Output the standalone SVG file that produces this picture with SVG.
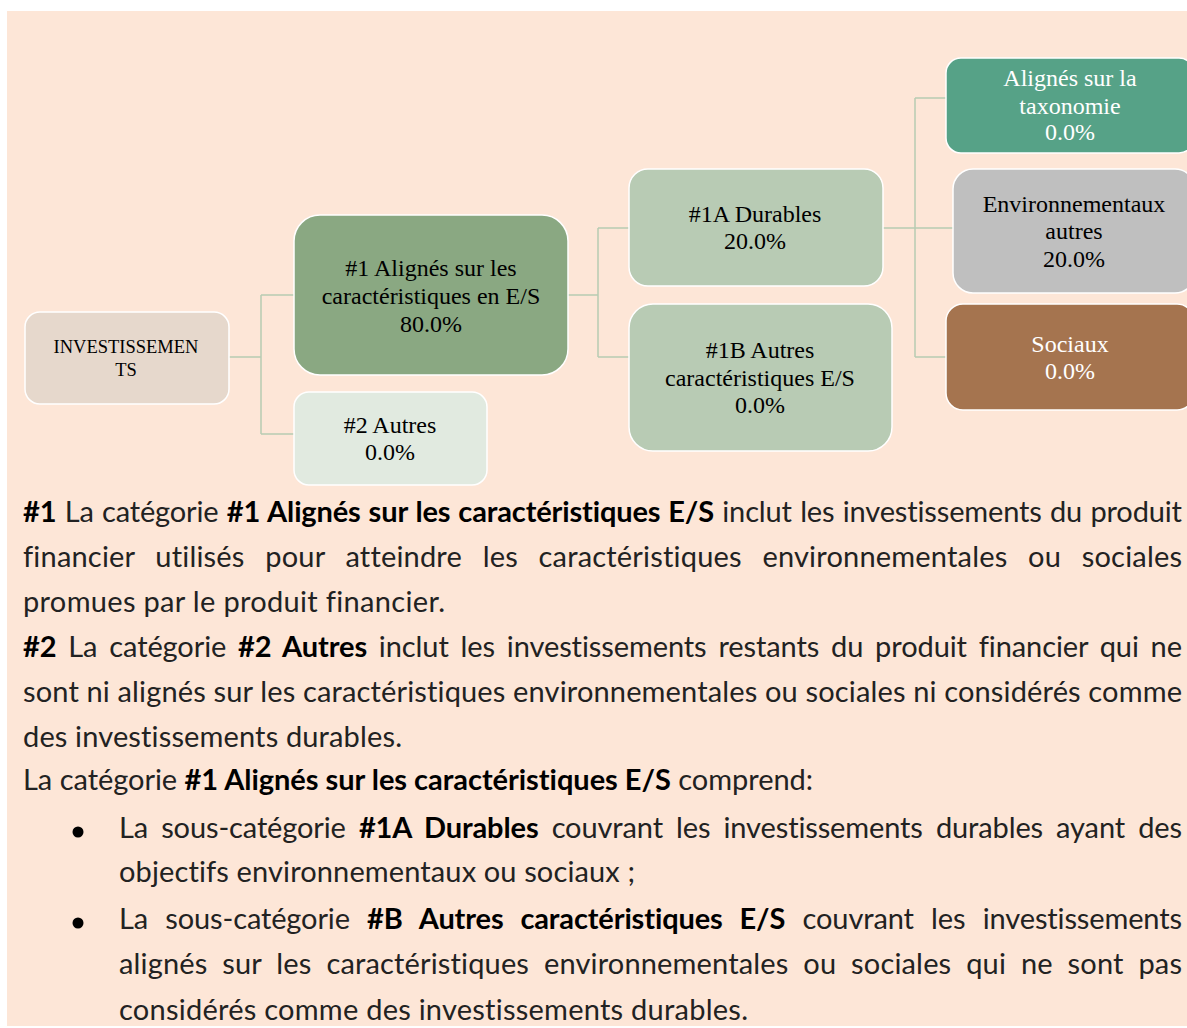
<svg xmlns="http://www.w3.org/2000/svg" width="1187" height="1028" viewBox="0 0 1187 1028">
<style>
.node rect{stroke:#ffffff;stroke-width:1.5}
.nt{font-family:"Liberation Serif","Times New Roman",serif;font-size:24px;text-anchor:middle;fill:#000}
.wt{fill:#ffffff}
.conn{fill:none;stroke:#B7CBB3;stroke-width:1.5}
.p{font-family:Lato,"Liberation Sans",sans-serif;font-size:29px;fill:#222222;font-variant-ligatures:none;font-feature-settings:"liga" 0,"clig" 0}
.b{font-weight:700;fill:#000}
</style>
<rect x="0" y="0" width="1187" height="1028" fill="#ffffff"/>
<rect x="7" y="11" width="1180" height="1015" fill="#FDE6D7"/>
<g id="connectors" class="conn">
<path d="M229,357 H261 M261,295 V434 M261,295 H294 M261,434 H294"/>
<path d="M568,295 H598 M598,228 V357 M598,228 H629 M598,357 H629"/>
<path d="M883,228 H915 M915,98 V357 M915,98 H946 M915,228 H953 M915,357 H946"/>
</g>
<g id="n-invest" class="node">
<rect x="25" y="312" width="204" height="92" rx="15" fill="#E6D8CC"/>
<text class="nt" style="font-size:18.5px"><tspan x="126" y="353">INVESTISSEMEN</tspan><tspan x="126" y="376">TS</tspan></text>
</g>
<g id="n-1" class="node">
<rect x="294" y="215" width="274" height="160" rx="26" fill="#8AA882"/>
<text class="nt"><tspan x="431" y="276">#1 Alignés sur les</tspan><tspan x="431" y="304">caractéristiques en E/S</tspan><tspan x="431" y="332">80.0%</tspan></text>
</g>
<g id="n-2" class="node">
<rect x="294" y="392" width="193" height="93" rx="15" fill="#E1EAE0"/>
<text class="nt"><tspan x="390" y="433">#2 Autres</tspan><tspan x="390" y="460">0.0%</tspan></text>
</g>
<g id="n-1a" class="node">
<rect x="629" y="169" width="254" height="117" rx="19" fill="#B8CBB4"/>
<text class="nt"><tspan x="755" y="222">#1A Durables</tspan><tspan x="755" y="249">20.0%</tspan></text>
</g>
<g id="n-1b" class="node">
<rect x="629" y="304" width="263" height="147" rx="24" fill="#B8CBB4"/>
<text class="nt"><tspan x="760" y="358">#1B Autres</tspan><tspan x="760" y="386">caractéristiques E/S</tspan><tspan x="760" y="413">0.0%</tspan></text>
</g>
<g id="n-tax" class="node">
<rect x="946" y="58" width="248" height="95" rx="15" fill="#56A287"/>
<text class="nt wt"><tspan x="1070" y="86">Alignés sur la</tspan><tspan x="1070" y="114">taxonomie</tspan><tspan x="1070" y="140">0.0%</tspan></text>
</g>
<g id="n-env" class="node">
<rect x="953" y="169" width="242" height="124" rx="20" fill="#BFBFBF"/>
<text class="nt"><tspan x="1074" y="212">Environnementaux</tspan><tspan x="1074" y="239">autres</tspan><tspan x="1074" y="267">20.0%</tspan></text>
</g>
<g id="n-soc" class="node">
<rect x="946" y="304" width="248" height="106" rx="17" fill="#A5744F"/>
<text class="nt wt"><tspan x="1070" y="352">Sociaux</tspan><tspan x="1070" y="379">0.0%</tspan></text>
</g>
<g id="legend">
<text class="p" x="23" y="522" word-spacing="1" textLength="1159" lengthAdjust="spacing"><tspan class="b">#1</tspan> La catégorie <tspan class="b">#1 Alignés sur les caractéristiques E/S</tspan> inclut les investissements du produit</text>
<text class="p" x="23" y="567" word-spacing="13" textLength="1159" lengthAdjust="spacing">financier utilisés pour atteindre les caractéristiques environnementales ou sociales</text>
<text class="p" x="23" y="612" textLength="422" lengthAdjust="spacing">promues par le produit financier.</text>
<text class="p" x="23" y="657" word-spacing="4.5" textLength="1159" lengthAdjust="spacing"><tspan class="b">#2</tspan> La catégorie <tspan class="b">#2 Autres</tspan> inclut les investissements restants du produit financier qui ne</text>
<text class="p" x="23" y="702" textLength="1159" lengthAdjust="spacing">sont ni alignés sur les caractéristiques environnementales ou sociales ni considérés comme</text>
<text class="p" x="23" y="747" textLength="379" lengthAdjust="spacing">des investissements durables.</text>
<text class="p" x="23" y="790" textLength="790" lengthAdjust="spacing">La catégorie <tspan class="b">#1 Alignés sur les caractéristiques E/S</tspan> comprend:</text>
<circle cx="78" cy="832" r="5.5" fill="#000"/>
<text class="p" x="119" y="838" word-spacing="5.8" textLength="1063" lengthAdjust="spacing">La sous-catégorie <tspan class="b">#1A Durables</tspan> couvrant les investissements durables ayant des</text>
<text class="p" x="119" y="882" textLength="516" lengthAdjust="spacing">objectifs environnementaux ou sociaux ;</text>
<circle cx="78" cy="923" r="5.5" fill="#000"/>
<text class="p" x="119" y="929" word-spacing="10" textLength="1063" lengthAdjust="spacing">La sous-catégorie <tspan class="b">#B Autres caractéristiques E/S</tspan> couvrant les investissements</text>
<text class="p" x="119" y="974" word-spacing="7.3" textLength="1063" lengthAdjust="spacing">alignés sur les caractéristiques environnementales ou sociales qui ne sont pas</text>
<text class="p" x="119" y="1020" textLength="629" lengthAdjust="spacing">considérés comme des investissements durables.</text>
</g>
</svg>
